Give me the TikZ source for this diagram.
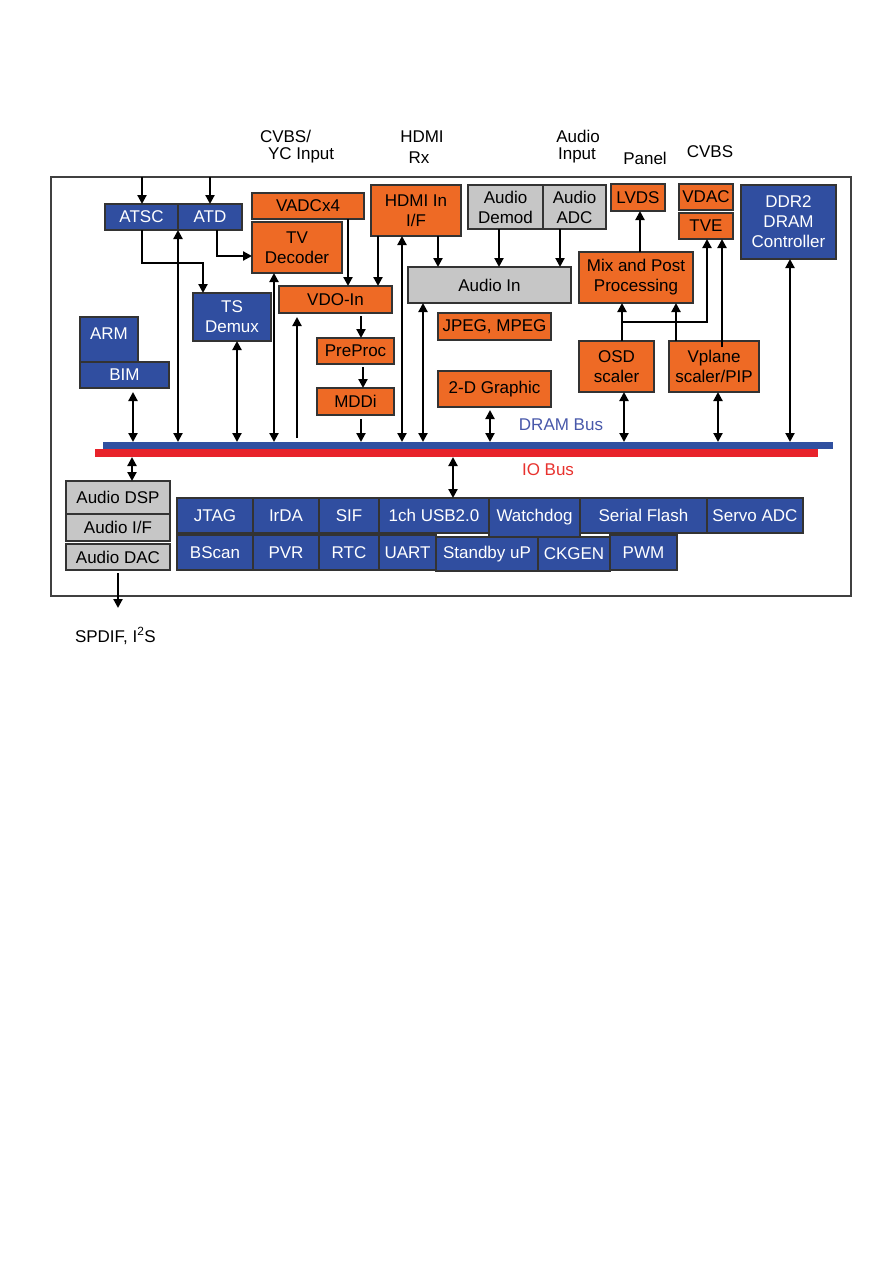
\documentclass[tikz,border=0pt]{standalone}
\usepackage{fontspec}
\setmainfont{Liberation Sans}
\usetikzlibrary{arrows.meta}
\definecolor{bblue}{RGB}{48,78,160}
\definecolor{borange}{RGB}{238,106,37}
\definecolor{bgray}{RGB}{198,198,198}
\definecolor{busblue}{RGB}{48,80,160}
\definecolor{busred}{RGB}{232,35,43}
\definecolor{lblblue}{RGB}{72,88,170}
\definecolor{lblred}{RGB}{232,50,46}
\newcommand\blk[7]{%
  \pgfmathsetmacro\blkw{#5-#3}\pgfmathsetmacro\blkh{#6-#4}%
  \pgfmathsetmacro\blkx{(#3+#5)/2}\pgfmathsetmacro\blky{(#4+#6)/2}%
  \node[#1, minimum width=\blkw pt, minimum height=\blkh pt] (#2) at (\blkx,\blky) {#7};}
\begin{document}
\begin{tikzpicture}[x=1pt,y=-1pt,
  every node/.style={font=\fontsize{17}{20}\selectfont, inner sep=0pt, outer sep=0pt},
  boxbase/.style={draw=black!80, line width=1.3pt, align=center},
  bluebox/.style={boxbase, fill=bblue, text=white},
  orbox/.style={boxbase, fill=borange, text=black},
  grbox/.style={boxbase, fill=bgray, text=black},
  framebox/.style={draw=black!75, line width=1.5pt},
  lbl/.style={text=black},
  arr/.style={line width=2.1pt, -{Triangle[length=9pt,width=9pt]}},
  darr/.style={line width=2.1pt, {Triangle[length=9pt,width=9pt]}-{Triangle[length=9pt,width=9pt]}},
  ln/.style={line width=2.1pt}]
\useasboundingbox (0,0) rectangle (893,1263);
\fill[white] (0,0) rectangle (893,1263);

% outer frame
\blk{framebox}{frame}{51}{177}{851}{596}{}

% top labels
\node[lbl, anchor=base west] (lcvbs1) at (260,142) {CVBS/};
\node[lbl, anchor=base west] (lcvbs2) at (268,159) {YC Input};
\node[lbl, anchor=base] (lhdmi1) at (422,142) {HDMI};
\node[lbl, anchor=base] (lhdmi2) at (419,163) {Rx};
\node[lbl, anchor=base] (laud1) at (578,142) {Audio};
\node[lbl, anchor=base] (laud2) at (577,159) {Input};
\node[lbl, anchor=base] (lpanel) at (645,164) {Panel};
\node[lbl, anchor=base] (lcvbs) at (710,157) {CVBS};
\node[lbl, anchor=base west] (lspdif) at (75,642) {SPDIF, I\textsuperscript{2}S};

% buses
\blk{fill=busblue}{dram}{103}{442}{833}{449}{}
\blk{fill=busred}{iobus}{95}{449}{818}{457}{}
\node[text=lblblue, anchor=base] (ldram) at (561,430) {DRAM Bus};
\node[text=lblred, anchor=base] (lio) at (548,475) {IO Bus};

% blue blocks
\blk{bluebox}{atsc}{105}{204}{178}{230}{ATSC}
\blk{bluebox}{atd}{178}{204}{242}{230}{ATD}
\blk{bluebox}{tsd}{193}{293}{271}{341}{TS\\Demux}
\node[bluebox, minimum width=58pt, minimum height=45pt, anchor=north west] (arm) at (80,317) {};
\node[text=white, anchor=base] (armt) at (109,339) {ARM};
\blk{bluebox}{bim}{80}{362}{169}{388}{BIM}
\blk{bluebox}{ddr}{741}{185}{836}{259}{DDR2\\DRAM\\Controller}

% orange blocks
\blk{orbox}{vadc}{252}{193}{364}{219}{VADCx4}
\blk{orbox}{tvdec}{252}{222}{342}{273}{TV\\Decoder}
\blk{orbox}{vdoin}{279}{286}{392}{313}{VDO-In}
\blk{orbox}{preproc}{317}{338}{394}{364}{PreProc}
\blk{orbox}{mddi}{317}{388}{394}{415}{MDDi}
\blk{orbox}{hdmi}{371}{185}{461}{236}{HDMI In\\I/F}
\blk{orbox}{jpeg}{438}{313}{551}{340}{JPEG, MPEG}
\blk{orbox}{gfx}{438}{371}{551}{407}{2-D Graphic}
\blk{orbox}{lvds}{611}{184}{665}{211}{LVDS}
\blk{orbox}{vdac}{679}{184}{733}{210}{VDAC}
\blk{orbox}{tve}{679}{213}{733}{239}{TVE}
\blk{orbox}{mix}{579}{252}{693}{303}{Mix and Post\\Processing}
\blk{orbox}{osd}{579}{341}{654}{392}{OSD\\scaler}
\blk{orbox}{vplane}{669}{341}{759}{392}{Vplane\\scaler/PIP}

% gray blocks
\blk{grbox}{ademod}{468}{185}{543}{229}{Audio\\Demod}
\blk{grbox}{aadc}{543}{185}{606}{229}{Audio\\ADC}
\blk{grbox}{ain}{408}{267}{571}{303}{Audio In}
\blk{grbox}{adsp}{66}{481}{170}{514}{Audio DSP}
\blk{grbox}{aif}{66}{514}{170}{541}{Audio I/F}
\blk{grbox}{adac}{66}{544}{170}{570}{Audio DAC}

% peripherals
\blk{bluebox}{jtag}{177}{498}{253}{533}{JTAG}
\blk{bluebox}{irda}{253}{498}{319}{533}{IrDA}
\blk{bluebox}{sif}{319}{498}{379}{533}{SIF}
\blk{bluebox}{usb}{379}{498}{489}{533}{1ch USB2.0}
\blk{bluebox}{sflash}{580}{498}{707}{533}{Serial Flash}
\blk{bluebox}{servo}{707}{498}{803}{533}{Servo ADC}
\blk{bluebox}{bscan}{177}{535}{253}{570}{BScan}
\blk{bluebox}{pvr}{253}{535}{319}{570}{PVR}
\blk{bluebox}{rtc}{319}{535}{379}{570}{RTC}
\blk{bluebox}{uart}{379}{535}{436}{570}{UART}
\blk{bluebox}{pwm}{610}{535}{677}{570}{PWM}
\blk{bluebox}{wdog}{489}{498}{580}{537}{Watchdog}
\blk{bluebox}{stby}{436}{537}{538}{571}{Standby uP}
\blk{bluebox}{ckgen}{538}{537}{610}{571}{CKGEN}

% inputs from top
\draw[arr] (frame.north -| 142,0) -- (atsc.north -| 142,0);
\draw[arr] (frame.north -| 210,0) -- (atd.north -| 210,0);

% ATSC -> TS Demux, ATD -> TV Decoder
\draw[arr] (atsc.south -| 142,0) |- (203,263) -- (tsd.north -| 203,0);
\draw[arr] (atd.south -| 217,0) |- (tvdec.west |- 0,256);

% internal video/audio
\draw[arr] (vadc.south -| 348,0) -- (vdoin.north -| 348,0);
\draw[arr] (hdmi.south -| 378,0) -- (vdoin.north -| 378,0);
\draw[arr] (hdmi.south -| 438,0) -- (ain.north -| 438,0);
\draw[arr] (ademod.south -| 499,0) -- (ain.north -| 499,0);
\draw[arr] (aadc.south -| 560,0) -- (ain.north -| 560,0);
\draw[arr] ([yshift=-3pt]vdoin.south -| 361,0) -- (preproc.north -| 361,0);
\draw[arr] ([yshift=-3pt]preproc.south -| 363,0) -- (mddi.north -| 363,0);
\draw[arr] (mix.north -| 640,0) -- (lvds.south -| 640,0);
\draw[arr] (osd.north -| 622,0) -- (mix.south -| 622,0);
\draw[arr] (622,322) -| (tve.south -| 707,0);
\draw[arr] (vplane.north -| 676,0) -- (mix.south -| 676,0);
\draw[arr] ([yshift=-6pt]vplane.north -| 722,0) -- (tve.south -| 722,0);

% DRAM bus connections
\draw[darr] ([yshift=-4pt]bim.south -| 133,0) -- (dram.north -| 133,0);
\draw[darr] (atsc.south -| 178,0) -- (dram.north -| 178,0);
\draw[darr] (tsd.south -| 237,0) -- (dram.north -| 237,0);
\draw[darr] (tvdec.south -| 274,0) -- (dram.north -| 274,0);
\draw[arr] ([yshift=4pt]dram.north -| 297,0) -- ([yshift=-4pt]vdoin.south -| 297,0);
\draw[arr] ([yshift=-4pt]mddi.south -| 361,0) -- (dram.north -| 361,0);
\draw[darr] (hdmi.south -| 402,0) -- (dram.north -| 402,0);
\draw[darr] (ain.south -| 423,0) -- (dram.north -| 423,0);
\draw[darr] ([yshift=-3pt]gfx.south -| 490,0) -- (dram.north -| 490,0);
\draw[darr] (osd.south -| 624,0) -- (dram.north -| 624,0);
\draw[darr] (vplane.south -| 718,0) -- (dram.north -| 718,0);
\draw[darr] (ddr.south -| 790,0) -- (dram.north -| 790,0);

% IO bus connections
\draw[darr] (iobus.south -| 132,0) -- (adsp.north -| 132,0);
\draw[darr] (iobus.south -| 453,0) -- (usb.north -| 453,0);
\coordinate (outend) at (118,608);
\draw[arr] ([yshift=-3pt]adac.south -| 118,0) -- (outend);
\end{tikzpicture}
\end{document}
